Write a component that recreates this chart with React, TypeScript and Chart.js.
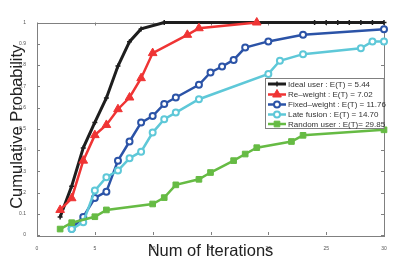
import React, { useEffect, useRef } from "react";
import { Chart, registerables } from "chart.js";
Chart.register(...registerables);

// ---- data ----
const seriesLabels = [
  "Ideal user : E(T) = 5.44",
  "Re–weight : E(T) = 7.02",
  "Fixed–weight : E(T) = 11.76",
  "Late fusion : E(T) = 14.70",
  "Random user : E(T)= 29.85",
];
const idealX = [2, 3, 4, 5, 6, 7, 8, 9, 11, 24, 25, 26, 27, 28, 29, 30];
const idealY = [0.085, 0.23, 0.41, 0.53, 0.645, 0.795, 0.91, 0.97, 1, 1, 1, 1, 1, 1, 1, 1];
const reweightX = [2, 3, 4, 5, 6, 7, 8, 9, 10, 13, 14, 19];
const reweightY = [0.118, 0.173, 0.35, 0.47, 0.518, 0.592, 0.647, 0.738, 0.856, 0.942, 0.973, 1];
const fixedX = [3, 4, 5, 6, 7, 8, 9, 10, 11, 12, 14, 15, 16, 17, 18, 20, 23, 30];
const fixedY = [0.03, 0.085, 0.174, 0.204, 0.35, 0.44, 0.529, 0.56, 0.617, 0.647, 0.707, 0.765, 0.793, 0.824, 0.882, 0.911, 0.942, 0.968];
const lateX = [3, 4, 5, 6, 7, 8, 9, 10, 11, 12, 14, 20, 21, 23, 28, 29, 30];
const lateY = [0.028, 0.06, 0.209, 0.272, 0.303, 0.361, 0.392, 0.482, 0.545, 0.576, 0.639, 0.758, 0.82, 0.851, 0.879, 0.911, 0.911];
const randomX = [2, 3, 5, 6, 10, 11, 12, 14, 15, 17, 18, 19, 22, 23, 30];
const randomY = [0.028, 0.058, 0.086, 0.118, 0.146, 0.176, 0.236, 0.262, 0.294, 0.35, 0.381, 0.411, 0.44, 0.469, 0.495];
const xTicks = [0, 5, 10, 15, 20, 25, 30];
const xTickLabels = ["0", "5", "10", "15", "20", "25", "30"];
const yTicks = [0, 0.1, 0.2, 0.3, 0.4, 0.5, 0.6, 0.7, 0.8, 0.9, 1];
const yTickLabels = ["0", "0.1", "0.2", "0.3", "0.4", "0.5", "0.6", "0.7", "0.8", "0.9", "1"];
const xTitle = "Num of Iterations";
const yTitle = "Cumulative Probability";

const FONT = "'Liberation Sans', Arial, sans-serif";

const styles = [
  { color: "#1e1e1e", point: "cross", r: 2.5, fill: "#1e1e1e", bw: 1.5, lw: 3 },
  { color: "#ef3434", point: "triangle", r: 5, fill: "#ef3434", bw: 1, lw: 2.5 },
  { color: "#2b53a7", point: "circle", r: 3, fill: "#ffffff", bw: 2, lw: 2.5 },
  { color: "#5ec8d8", point: "circle", r: 3, fill: "#ffffff", bw: 2, lw: 2.5 },
  { color: "#66bb44", point: "rect", r: 4, fill: "#66bb44", bw: 1, lw: 2.5 },
];

function toPts(xs: number[], ys: number[]) {
  return xs.map((x, i) => ({ x, y: ys[i] }));
}

function drawMarker(ctx: CanvasRenderingContext2D, s: any, x: number, y: number) {
  ctx.save();
  ctx.strokeStyle = s.color;
  ctx.fillStyle = s.fill;
  ctx.lineWidth = s.bw;
  ctx.beginPath();
  if (s.point === "cross") {
    ctx.moveTo(x, y - s.r);
    ctx.lineTo(x, y + s.r);
    ctx.moveTo(x - s.r, y);
    ctx.lineTo(x + s.r, y);
    ctx.stroke();
  } else if (s.point === "triangle") {
    const r = s.r;
    ctx.moveTo(x, y - r);
    ctx.lineTo(x + r * Math.sin((2 * Math.PI) / 3), y - r * Math.cos((2 * Math.PI) / 3));
    ctx.lineTo(x + r * Math.sin((4 * Math.PI) / 3), y - r * Math.cos((4 * Math.PI) / 3));
    ctx.closePath();
    ctx.fill();
    ctx.stroke();
  } else if (s.point === "circle") {
    ctx.arc(x, y, s.r, 0, Math.PI * 2);
    ctx.fill();
    ctx.stroke();
  } else {
    const h = s.r * Math.SQRT1_2;
    ctx.rect(x - h, y - h, 2 * h, 2 * h);
    ctx.fill();
    ctx.stroke();
  }
  ctx.restore();
}

const framePlugin = {
  id: "frame",
  beforeDatasetsDraw(chart: any) {
    const { ctx, chartArea: a, scales } = chart;
    ctx.save();
    ctx.strokeStyle = "#808080";
    ctx.lineWidth = 1;
    ctx.strokeRect(Math.round(a.left) + 0.5, Math.round(a.top) + 0.5, Math.round(a.right - a.left), Math.round(a.bottom - a.top));
    ctx.beginPath();
    const tl = 3;
    xTicks.forEach((v) => {
      const px = Math.round(scales.x.getPixelForValue(v)) + 0.5;
      ctx.moveTo(px, a.bottom);
      ctx.lineTo(px, a.bottom - tl);
      ctx.moveTo(px, a.top);
      ctx.lineTo(px, a.top + tl);
    });
    yTicks.forEach((v) => {
      const py = Math.round(scales.y.getPixelForValue(v)) + 0.5;
      ctx.moveTo(a.left, py);
      ctx.lineTo(a.left + tl, py);
      ctx.moveTo(a.right, py);
      ctx.lineTo(a.right - tl, py);
    });
    ctx.stroke();
    ctx.restore();
  },
  afterDraw(chart: any) {
    const { ctx, chartArea: a } = chart;
    ctx.save();
    // axis titles
    ctx.fillStyle = "#222";
    ctx.font = `16.5px ${FONT}`;
    ctx.textAlign = "center";
    ctx.textBaseline = "middle";
    ctx.fillText(xTitle, (a.left + a.right) / 2, 251);
    ctx.translate(17, (a.top + a.bottom) / 2 - 2);
    ctx.rotate(-Math.PI / 2);
    ctx.fillText(yTitle, 0, 0);
    ctx.restore();

    // legend
    ctx.save();
    const bx = 265.5, by = 78.5, bw = 118.5, bh = 50;
    ctx.fillStyle = "#ffffff";
    ctx.fillRect(bx, by, bw, bh);
    ctx.strokeStyle = "#808080";
    ctx.lineWidth = 1;
    ctx.strokeRect(bx, by, bw, bh);
    const rows = [84, 94.5, 104.5, 114.5, 124];
    ctx.font = `8px ${FONT}`;
    ctx.textBaseline = "middle";
    ctx.textAlign = "left";
    seriesLabels.forEach((lab, i) => {
      const s = styles[i];
      const y = rows[i];
      ctx.strokeStyle = s.color;
      ctx.lineWidth = s.lw;
      ctx.beginPath();
      ctx.moveTo(268, y);
      ctx.lineTo(286, y);
      ctx.stroke();
      drawMarker(ctx, s, 277, y);
      ctx.fillStyle = "#333";
      ctx.fillText(lab, 288, y + 0.5);
    });
    ctx.restore();
  },
};

export default function App() {
  const ref = useRef<HTMLCanvasElement>(null);
  useEffect(() => {
    if (!ref.current) return;
    const xs = [idealX, reweightX, fixedX, lateX, randomX];
    const ys = [idealY, reweightY, fixedY, lateY, randomY];
    const chart = new Chart(ref.current, {
      type: "line",
      data: {
        datasets: seriesLabels.map((label, i) => ({
          label,
          data: toPts(xs[i], ys[i]),
          borderColor: styles[i].color,
          backgroundColor: styles[i].fill,
          pointBorderColor: styles[i].color,
          pointBackgroundColor: styles[i].fill,
          pointStyle: styles[i].point as any,
          pointRadius: styles[i].r,
          pointBorderWidth: styles[i].bw,
          borderWidth: styles[i].lw,
          tension: 0,
          clip: false as any,
          order: 5 - i,
        })),
      },
      options: {
        animation: false,
        responsive: false,
        layout: { padding: { left: 0, top: 22.5, right: 15, bottom: 0 } },
        plugins: { legend: { display: false }, tooltip: { enabled: false } },
        scales: {
          x: {
            type: "linear",
            min: 0,
            max: 30,
            grid: { display: false },
            border: { display: false },
            afterBuildTicks: (s: any) => {
              s.ticks = xTicks.map((v) => ({ value: v }));
            },
            afterFit: (s: any) => {
              s.height = 35;
            },
            ticks: {
              padding: 3,
              maxRotation: 0,
              color: "#555",
              font: { size: 5, family: FONT },
              callback: (v: any) => xTickLabels[xTicks.indexOf(Number(v))] ?? "",
            },
          },
          y: {
            type: "linear",
            min: 0,
            max: 1,
            grid: { display: false },
            border: { display: false },
            afterBuildTicks: (s: any) => {
              s.ticks = yTicks.map((v) => ({ value: v }));
            },
            afterFit: (s: any) => {
              s.width = 37;
            },
            ticks: {
              padding: 3,
              color: "#555",
              font: { size: 5, family: FONT },
              callback: (v: any) => {
                const idx = yTicks.findIndex((t) => Math.abs(t - Number(v)) < 1e-6);
                return idx >= 0 ? yTickLabels[idx] : "";
              },
            },
          },
        },
      },
      plugins: [framePlugin],
    });
    return () => chart.destroy();
  }, []);
  return (
    <div style={{ position: "absolute", left: 0, top: 0, width: 399, height: 270, background: "#fff" }}>
      <canvas ref={ref} width={399} height={270} style={{ display: "block" }} />
    </div>
  );
}
